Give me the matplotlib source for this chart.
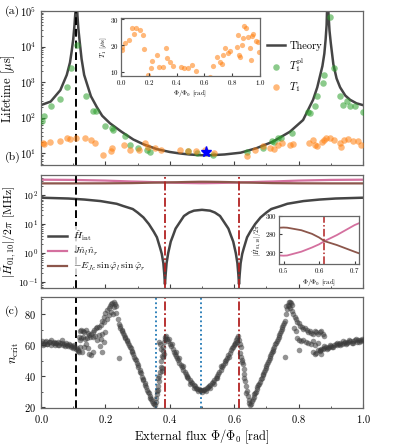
import matplotlib.pyplot as plt
import numpy as np
from matplotlib.ticker import MultipleLocator

plt.rcParams.update({
    "font.family": "serif",
    "font.serif": ["cmr10"],
    "mathtext.fontset": "cm",
    "axes.formatter.use_mathtext": True,
    "axes.unicode_minus": False,
})

# ---------------- data ----------------
# (a) theory lifetime curve [us]
theory_flux = [0.0, 0.03, 0.06, 0.08, 0.09, 0.095, 0.1, 0.104, 0.107, 0.109, 0.11,
               0.111, 0.113, 0.116, 0.12, 0.126, 0.134, 0.142, 0.155, 0.173, 0.19,
               0.214, 0.25, 0.287, 0.32, 0.36, 0.4, 0.43, 0.46, 0.494, 0.53, 0.57,
               0.6, 0.62, 0.67, 0.72, 0.773, 0.814, 0.845, 0.858, 0.866, 0.874, 0.88,
               0.884, 0.887, 0.889, 0.89, 0.891, 0.893, 0.896, 0.9, 0.908, 0.918,
               0.929, 0.945, 0.96, 0.98, 1.0]
theory_log = [2.35, 2.45, 2.77, 3.2, 3.55, 3.85, 4.2, 4.6, 5.0, 5.5, 6.0,
              5.5, 4.9, 4.5, 4.15, 3.65, 3.2, 2.97, 2.6, 2.3, 2.05,
              1.84, 1.6, 1.38, 1.24, 1.11, 1.03, 0.99, 0.96, 0.94, 0.94, 0.96,
              0.99, 1.01, 1.14, 1.32, 1.6, 1.93, 2.5, 2.85, 3.15, 3.45, 3.8,
              4.2, 4.6, 5.2, 6.0, 5.5, 4.9, 4.45, 4.1, 3.5, 3.1,
              2.85, 2.62, 2.5, 2.4, 2.35]

# (a) measured T1 [us]
t1_flux = [0.005, 0.01, 0.029, 0.058, 0.081, 0.091, 0.108, 0.137, 0.156, 0.168,
           0.192, 0.216, 0.22, 0.257, 0.276, 0.305, 0.324, 0.333, 0.353, 0.372,
           0.432, 0.456, 0.48, 0.508, 0.537, 0.64, 0.664, 0.688, 0.712, 0.724,
           0.736, 0.748, 0.772, 0.784, 0.832, 0.844, 0.851, 0.856, 0.873, 0.88,
           0.885, 0.897, 0.911, 0.928, 0.933, 0.94, 0.952, 0.969, 0.983, 0.993]
t1_vals = [19.4, 18.1, 20.9, 22.2, 26.8, 24.3, 26.5, 25.8, 23.8, 18.7,
           8.6, 11.3, 14.2, 16.4, 11.8, 11.8, 19.0, 15.2, 13.8, 12.2,
           11.9, 11.6, 11.6, 12.5, 10.3, 8.2, 12.2, 15.5, 13.8, 13.1,
           16.4, 19.0, 17.0, 17.8, 19.4, 23.9, 16.5, 15.7, 20.0, 23.0,
           27.4, 26.8, 23.2, 19.0, 14.4, 23.5, 24.5, 21.7, 21.3, 17.4]

# (a) T1 purcell-limited [us]
t1pl_flux = [0.003, 0.01, 0.031, 0.06, 0.082, 0.092, 0.113, 0.141, 0.161, 0.172,
             0.198, 0.221, 0.224, 0.26, 0.275, 0.30, 0.33, 0.337, 0.455, 0.483,
             0.535, 0.641, 0.688, 0.716, 0.724, 0.737, 0.745, 0.778, 0.83, 0.835,
             0.851, 0.856, 0.876, 0.879, 0.898, 0.91, 0.929, 0.939, 0.949, 0.959,
             0.975, 0.999]
t1pl_vals = [81, 107, 210, 340, 740, 2450, 10700, 405, 155, 148,
             56, 50, 46, 30, 17, 13.8, 12.3, 10.4, 11.5, 9.8,
             8.9, 10.7, 13.8, 22, 21, 26, 27, 36, 142, 130,
             210, 400, 940, 1600, 66000, 2450, 400, 230, 286, 210,
             205, 142]

star_flux, star_val = 0.512, 10.7

# (b) matrix elements [MHz]
b_flux = [0.0, 0.1, 0.2, 0.28, 0.3, 0.35, 0.385, 0.42, 0.45, 0.49, 0.5, 0.51,
          0.55, 0.58, 0.6, 0.615, 0.65, 0.7, 0.72, 0.8, 0.9, 1.0]
pink_vals = [338, 332, 315, 293, 289.7, 278.7, 272, 265, 260.4, 256.2, 256, 256.2,
             260.4, 265, 268.5, 272, 278.7, 289.7, 293, 315, 332, 338]
brown_vals = [252, 252, 253.5, 257.5, 260.3, 267.7, 272, 276, 281.5, 286.8, 287, 286.8,
              284, 280, 276, 272, 267.7, 260.3, 257.5, 253.5, 252, 252]

hint_flux = [0.0, 0.085, 0.135, 0.185, 0.235, 0.255, 0.285, 0.3, 0.318, 0.335,
             0.35, 0.36, 0.37, 0.375, 0.38, 0.383, 0.385, 0.387, 0.39, 0.395,
             0.403, 0.41, 0.418, 0.432, 0.444, 0.46, 0.475, 0.5, 0.525, 0.54,
             0.556, 0.568, 0.582, 0.59, 0.597, 0.605, 0.61, 0.613, 0.615, 0.617,
             0.62, 0.625, 0.63, 0.64, 0.65, 0.665, 0.682, 0.7, 0.715, 0.745,
             0.765, 0.815, 0.865, 0.915, 1.0]
hint_vals = [81, 76, 70, 62, 50, 42, 33, 25, 17, 10,
             5.5, 3.5, 1.5, 0.95, 0.45, 0.18, 0.085, 0.18, 0.45, 1.0,
             2.5, 4, 7, 12, 19, 25, 29, 31, 29, 25,
             19, 12, 7, 4, 2.5, 1.0, 0.45, 0.18, 0.085, 0.18,
             0.45, 0.95, 1.5, 3.5, 5.5, 10, 17, 25, 33, 42,
             50, 62, 70, 76, 81]

# (c) critical photon number, one list per branch
crit_plateau_left = [(0.000, 61.5), (0.004, 62.6), (0.008, 60.9), (0.012, 61.9), (0.016, 62.4),
                     (0.020, 60.6), (0.024, 61.7), (0.028, 62.1), (0.032, 60.4), (0.036, 61.4),
                     (0.040, 62.0), (0.044, 60.2), (0.048, 61.1), (0.052, 61.8), (0.056, 60.0),
                     (0.060, 61.3), (0.064, 63.2), (0.068, 60.1), (0.072, 60.9), (0.076, 59.6),
                     (0.080, 60.4), (0.084, 59.2), (0.088, 60.8), (0.092, 58.8), (0.096, 59.5),
                     (0.100, 58.1), (0.104, 59.0), (0.108, 57.6), (0.112, 58.3), (0.116, 57.0),
                     (0.006, 60.2), (0.018, 61.0), (0.030, 63.0), (0.042, 61.2), (0.054, 59.9),
                     (0.066, 61.5), (0.078, 61.2), (0.090, 59.9), (0.102, 60.2), (0.114, 56.2)]
crit_upper_left = [(0.118, 65.0), (0.121, 68.8), (0.125, 69.6), (0.130, 69.0), (0.135, 68.2),
                   (0.140, 69.6), (0.146, 67.6), (0.150, 66.2), (0.155, 67.1), (0.160, 68.4),
                   (0.165, 69.5), (0.170, 70.9), (0.175, 71.8), (0.180, 71.4), (0.185, 73.0),
                   (0.190, 75.8), (0.195, 78.1), (0.200, 80.4), (0.205, 82.4), (0.210, 84.1),
                   (0.214, 85.4), (0.218, 86.3), (0.222, 87.2), (0.226, 87.8), (0.229, 86.6),
                   (0.232, 85.2), (0.228, 84.3), (0.212, 79.2), (0.218, 81.6), (0.224, 80.2),
                   (0.205, 77.0), (0.196, 74.6)]
crit_middle_left = [(0.120, 63.6), (0.125, 64.6), (0.131, 65.1), (0.138, 64.1), (0.144, 64.6),
                    (0.152, 65.0), (0.160, 65.3), (0.168, 65.8), (0.175, 63.2), (0.180, 66.6),
                    (0.188, 67.2), (0.195, 62.2), (0.200, 68.6), (0.185, 64.0)]
crit_lower_left = [(0.118, 55.8), (0.122, 58.6), (0.127, 55.4), (0.134, 59.1), (0.140, 60.6),
                   (0.145, 58.0), (0.150, 54.4), (0.156, 53.8), (0.162, 55.6), (0.183, 59.6),
                   (0.188, 55.4)]
crit_descent = [(0.234, 80.5), (0.238, 77.0), (0.242, 73.5), (0.246, 71.2), (0.250, 69.8),
                (0.254, 68.1), (0.258, 66.5), (0.262, 64.8), (0.266, 63.2), (0.270, 61.6),
                (0.274, 59.8), (0.278, 58.1), (0.282, 56.2), (0.286, 54.3), (0.290, 52.3),
                (0.294, 50.3), (0.298, 48.2), (0.302, 46.1), (0.306, 44.0), (0.310, 41.8),
                (0.314, 39.6), (0.318, 37.4), (0.322, 35.3), (0.326, 33.1), (0.330, 31.0),
                (0.334, 29.0), (0.338, 27.1), (0.342, 25.3), (0.346, 23.7), (0.350, 22.3),
                (0.353, 21.4), (0.244, 72.0), (0.252, 69.0), (0.260, 65.5), (0.268, 62.5),
                (0.276, 58.8), (0.284, 55.4), (0.292, 51.2), (0.300, 47.0), (0.308, 42.8),
                (0.316, 38.4), (0.324, 34.2), (0.332, 30.0), (0.340, 26.0), (0.348, 23.0),
                (0.242, 52.0)]
crit_jump_left = [(0.356, 23.5), (0.358, 26.0), (0.360, 28.5), (0.362, 31.0), (0.364, 33.8),
                  (0.366, 37.0), (0.368, 40.0), (0.370, 43.0), (0.372, 46.0), (0.374, 49.5),
                  (0.376, 53.0), (0.378, 56.0), (0.380, 59.0), (0.382, 62.0), (0.384, 64.0),
                  (0.386, 65.4), (0.389, 65.8), (0.366, 62.2), (0.370, 61.0), (0.372, 57.5),
                  (0.375, 45.0), (0.377, 43.5), (0.379, 52.5), (0.382, 54.0), (0.363, 39.0),
                  (0.361, 30.5)]
crit_valley = [(0.392, 64.2), (0.395, 62.6), (0.398, 63.8), (0.401, 61.0), (0.404, 59.2),
               (0.407, 60.5), (0.410, 57.3), (0.413, 55.6), (0.416, 54.6), (0.419, 53.0),
               (0.422, 51.6), (0.426, 50.2), (0.430, 48.6), (0.434, 47.0), (0.438, 45.6),
               (0.442, 44.0), (0.446, 42.6), (0.450, 41.3), (0.454, 40.0), (0.458, 38.6),
               (0.462, 37.4), (0.466, 36.3), (0.470, 35.3), (0.474, 34.3), (0.478, 33.5),
               (0.482, 32.6), (0.486, 32.0), (0.490, 31.5), (0.494, 31.1), (0.498, 30.8),
               (0.502, 30.9), (0.506, 31.2), (0.510, 31.6), (0.514, 32.2), (0.518, 32.9),
               (0.522, 33.7), (0.526, 34.6), (0.530, 35.5), (0.534, 36.5), (0.538, 37.6),
               (0.542, 38.8), (0.546, 40.1), (0.550, 41.4), (0.554, 42.8), (0.558, 44.2),
               (0.562, 45.7), (0.566, 47.2), (0.570, 48.8), (0.574, 50.4), (0.578, 52.0),
               (0.582, 53.6), (0.586, 55.2), (0.590, 56.8), (0.594, 58.4), (0.598, 60.0),
               (0.602, 61.6), (0.606, 63.0), (0.610, 64.4), (0.613, 65.6),
               (0.420, 55.5), (0.428, 52.0), (0.440, 46.5), (0.452, 39.5), (0.464, 35.0),
               (0.476, 32.5), (0.488, 30.5), (0.500, 29.8), (0.512, 30.5), (0.524, 32.5),
               (0.536, 35.0), (0.548, 39.0), (0.560, 46.5), (0.572, 49.5), (0.584, 52.5),
               (0.596, 59.0), (0.604, 60.5), (0.608, 62.0)]
crit_drop_right = [(0.616, 63.2), (0.619, 61.0), (0.621, 58.6), (0.617, 55.0), (0.620, 52.4),
                   (0.624, 50.2), (0.627, 47.6), (0.629, 44.6), (0.632, 41.2), (0.634, 37.2),
                   (0.637, 33.4), (0.640, 30.2), (0.642, 27.4), (0.645, 24.8), (0.647, 22.8),
                   (0.650, 21.4), (0.653, 22.2), (0.623, 49.0), (0.631, 39.0), (0.638, 29.0)]
crit_rise_right = [(0.655, 24.0), (0.660, 26.5), (0.665, 29.0), (0.670, 31.5), (0.675, 34.0),
                   (0.680, 36.5), (0.685, 39.0), (0.690, 41.5), (0.695, 44.0), (0.700, 46.5),
                   (0.705, 49.0), (0.710, 51.5), (0.715, 54.0), (0.720, 56.5), (0.725, 59.0),
                   (0.730, 61.5), (0.735, 64.0), (0.740, 66.5), (0.745, 69.0), (0.750, 71.5),
                   (0.755, 74.0), (0.758, 75.6), (0.658, 25.0), (0.668, 30.0), (0.678, 35.0),
                   (0.688, 40.5), (0.698, 45.5), (0.708, 50.5), (0.718, 55.5), (0.728, 60.5),
                   (0.738, 65.5), (0.748, 70.5), (0.662, 28.5), (0.672, 33.0), (0.682, 38.0),
                   (0.692, 43.0), (0.702, 48.0), (0.712, 52.8), (0.722, 57.8), (0.732, 62.8),
                   (0.742, 67.8), (0.752, 72.8)]
crit_peak_right = [(0.760, 80.0), (0.763, 83.5), (0.766, 86.0), (0.769, 87.6), (0.772, 88.0),
                   (0.775, 87.0), (0.778, 86.0), (0.770, 85.0), (0.774, 84.2), (0.762, 85.0),
                   (0.781, 82.0), (0.784, 80.0), (0.788, 78.0), (0.792, 76.8), (0.796, 75.2),
                   (0.800, 74.0), (0.805, 72.6), (0.810, 71.4), (0.815, 70.4), (0.820, 70.8),
                   (0.825, 69.6), (0.830, 68.2), (0.835, 69.2), (0.840, 68.0), (0.845, 67.2),
                   (0.850, 69.0), (0.855, 68.2), (0.860, 67.4), (0.865, 68.6), (0.870, 69.4),
                   (0.875, 67.0), (0.880, 65.6), (0.786, 71.0), (0.757, 52.5)]
crit_middle_right = [(0.792, 68.8), (0.796, 64.6), (0.800, 63.4), (0.808, 62.6), (0.815, 63.2),
                     (0.822, 62.0), (0.830, 61.2), (0.838, 60.8), (0.845, 62.4), (0.852, 60.4),
                     (0.860, 61.4), (0.800, 56.6), (0.845, 55.6), (0.850, 54.6), (0.855, 55.2),
                     (0.860, 57.0), (0.865, 56.0), (0.870, 54.2)]
crit_plateau_right = [(0.866, 56.6), (0.870, 57.2), (0.875, 57.6), (0.880, 58.0), (0.885, 58.6),
                      (0.890, 58.1), (0.895, 59.0), (0.900, 59.5), (0.905, 59.0), (0.910, 60.0),
                      (0.915, 60.5), (0.920, 60.0), (0.925, 61.0), (0.930, 61.5), (0.935, 60.6),
                      (0.940, 61.5), (0.945, 62.0), (0.950, 61.1), (0.955, 62.0), (0.960, 62.5),
                      (0.965, 61.6), (0.970, 62.5), (0.975, 63.0), (0.980, 62.1), (0.985, 63.0),
                      (0.990, 63.5), (0.995, 62.6), (1.000, 63.1), (0.878, 59.2), (0.888, 57.4),
                      (0.898, 60.4), (0.908, 58.8), (0.918, 61.4), (0.928, 60.2), (0.938, 62.4),
                      (0.948, 60.8), (0.958, 63.2), (0.968, 61.4), (0.978, 64.0), (0.988, 62.0),
                      (0.998, 64.0)]

sweet_flux = 0.11
cross_flux = [0.385, 0.615]
dotted_flux = [0.357, 0.497]

# ---------------- styling ----------------
GREEN = "#2ca02c"
ORANGE = "#ff7f0e"
PINK = "#d4709f"
BROWN = "#8c564b"
DKGRAY = "#454545"
RED = "#b22222"
BLUE = "#1f77b4"
SPINE = "0.4"


def style_axes(ax, size=7.5):
    for sp in ax.spines.values():
        sp.set_color(SPINE)
        sp.set_linewidth(0.9)
    ax.tick_params(which="both", direction="in", color="0.25", labelsize=size,
                   top=False, right=False)
    ax.tick_params(which="major", length=3, width=0.8)
    ax.tick_params(which="minor", length=1.6, width=0.6)


fig = plt.figure(figsize=(3.97, 4.46), dpi=100)
ax_a = fig.add_axes([0.1033, 0.630, 0.811, 0.3453])
ax_b = fig.add_axes([0.1033, 0.3543, 0.811, 0.2533])
ax_c = fig.add_axes([0.1033, 0.0852, 0.811, 0.2489])

# ---- panel (a)
ax_a.plot(theory_flux, 10 ** np.array(theory_log), color=DKGRAY, lw=1.8,
          label="Theory", zorder=2)
ax_a.scatter(t1pl_flux, t1pl_vals, s=22, color=GREEN, alpha=0.55, lw=0,
             label=r"$T_1^{\mathrm{pl}}$", zorder=3)
ax_a.scatter(t1_flux, t1_vals, s=22, color=ORANGE, alpha=0.55, lw=0,
             label=r"$T_1$", zorder=3)
ax_a.plot([star_flux], [star_val], marker="*", color="blue", ms=8, ls="none", zorder=4)
ax_a.axvline(sweet_flux, color="black", ls=(0, (4, 2)), lw=1.4, zorder=2.5)
ax_a.set_yscale("log")
ax_a.set_ylim(4.6, 1e5)
ax_a.set_xlim(0, 1)
ax_a.set_ylabel(r"Lifetime [$\mu$s]", fontsize=9, labelpad=2)
ax_a.legend(loc="upper left", bbox_to_anchor=(0.69, 0.835), frameon=False,
            fontsize=7.5, handlelength=1.7, handletextpad=0.4, labelspacing=0.55,
            borderaxespad=0)

# inset (a)
ins_a = fig.add_axes([0.3048, 0.8296, 0.350, 0.130])
ins_a.scatter(t1_flux, t1_vals, s=14, color=ORANGE, alpha=0.55, lw=0)
ins_a.set_xlim(0, 1)
ins_a.set_ylim(8.4, 30.4)
ins_a.set_yticks([10, 20, 30])
ins_a.set_xticks([0.0, 0.2, 0.4, 0.6, 0.8, 1.0])
ins_a.set_ylabel(r"$T_1$ [$\mu$s]", fontsize=5, labelpad=1)
ins_a.set_xlabel(r"$\Phi/\Phi_0$ [rad]", fontsize=5, labelpad=1)
style_axes(ins_a, size=5)
ins_a.tick_params(which="major", length=2.5, pad=1.5)

# ---- panel (b)
ax_b.plot(b_flux, pink_vals, color=PINK, lw=1.6, label=r"$J\hat{n}_l\hat{n}_r$")
ax_b.plot(b_flux, brown_vals, color=BROWN, lw=1.6,
          label=r"$-E_{Jc}\,\sin\hat{\varphi}_l\,\sin\hat{\varphi}_r$")
ax_b.plot(hint_flux, hint_vals, color=DKGRAY, lw=1.8, label=r"$\hat{H}_{\mathrm{int}}$")
ax_b.axvline(sweet_flux, color="black", ls=(0, (4, 2)), lw=1.4)
for xc in cross_flux:
    ax_b.axvline(xc, color=RED, ls=(0, (5, 1.5, 1, 1.5)), lw=1.3)
ax_b.set_yscale("log")
ax_b.set_ylim(0.063, 490)
ax_b.set_xlim(0, 1)
ax_b.set_ylabel(r"$|\hat{H}_{01,10}|/2\pi$ [MHz]", fontsize=8.5, labelpad=0)
h, l = ax_b.get_legend_handles_labels()
leg_b = ax_b.legend([h[2], h[0], h[1]], [l[2], l[0], l[1]], loc="lower left",
                    bbox_to_anchor=(0.0, 0.07), frameon=True, framealpha=0.8,
                    edgecolor="none", fontsize=7, handlelength=2.0,
                    handletextpad=0.6, labelspacing=0.3, borderpad=0.2)

# inset (b)
ins_b = fig.add_axes([0.7035, 0.4074, 0.2015, 0.109])
ins_b.plot(b_flux, pink_vals, color=PINK, lw=1.3)
ins_b.plot(b_flux, brown_vals, color=BROWN, lw=1.3)
ins_b.axvline(cross_flux[1], color=RED, ls=(0, (5, 1.5, 1, 1.5)), lw=1.1)
ins_b.set_xlim(0.488, 0.713)
ins_b.set_ylim(246.5, 300)
ins_b.set_xticks([0.5, 0.6, 0.7])
ins_b.set_yticks([260, 280, 300])
ins_b.set_ylabel(r"$|\hat{H}_{01,10}|/2\pi$", fontsize=4.5, labelpad=1)
ins_b.set_xlabel(r"$\Phi/\Phi_0$ [rad]", fontsize=5, labelpad=1)
style_axes(ins_b, size=5)
ins_b.tick_params(which="major", length=2.5, pad=1.5)

# ---- panel (c)
crit_all = (crit_plateau_left + crit_upper_left + crit_middle_left + crit_lower_left
            + crit_descent + crit_jump_left + crit_valley + crit_drop_right
            + crit_rise_right + crit_peak_right + crit_middle_right + crit_plateau_right)
crit_flux = [p[0] for p in crit_all]
crit_n = [p[1] for p in crit_all]
ax_c.scatter(crit_flux, crit_n, s=16, color="#3a3a3a", alpha=0.55, lw=0, zorder=3)
ax_c.axvline(sweet_flux, color="black", ls=(0, (4, 2)), lw=1.4, zorder=2)
for xc in cross_flux:
    ax_c.axvline(xc, color=RED, ls=(0, (5, 1.5, 1, 1.5)), lw=1.3, zorder=2)
for xd in dotted_flux:
    ax_c.axvline(xd, color=BLUE, ls=(0, (1, 1.5)), lw=1.3, zorder=2)
ax_c.set_xlim(0, 1)
ax_c.set_ylim(19.5, 91)
ax_c.set_yticks([20, 40, 60, 80])
ax_c.yaxis.set_minor_locator(MultipleLocator(10))
ax_c.set_ylabel(r"$n_{\mathrm{crit}}$", fontsize=9, labelpad=2)
ax_c.set_xlabel(r"External flux $\Phi/\Phi_0$ [rad]", fontsize=9, labelpad=2)

for ax in (ax_a, ax_b, ax_c):
    ax.xaxis.set_major_locator(MultipleLocator(0.2))
    ax.xaxis.set_minor_locator(MultipleLocator(0.1))
    style_axes(ax)
for ax in (ax_a, ax_b):
    ax.tick_params(axis="x", labelbottom=False)
ax_b.tick_params(axis="y", which="major", labelsize=7, pad=2)

fig.text(0.012, 0.975, "(a)", fontsize=8.5, va="center", ha="left")
fig.text(0.012, 0.648, "(b)", fontsize=8.5, va="center", ha="left")
fig.text(0.012, 0.302, "(c)", fontsize=8.5, va="center", ha="left")

fig.savefig("out.png", dpi=100)
